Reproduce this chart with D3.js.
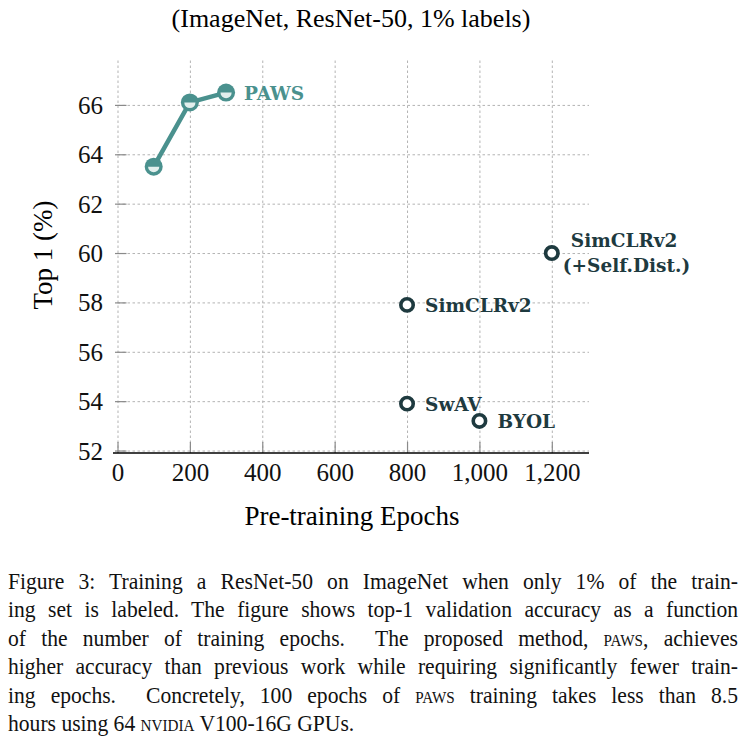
<!DOCTYPE html>
<html>
  <head>
    <meta charset="utf-8">
    <script src="https://cdn.jsdelivr.net/npm/d3@7"></script>
    <style>
      body { margin: 0; background: #fff; }
      svg { display: block; }
      .grid line { stroke: #b3b3b3; stroke-dasharray: 2.5,2.5; stroke-width: 1; }
      .grid path { display: none; }
      .axis text { font-family: "Liberation Serif", "Times New Roman", serif; font-size: 25px; fill: #111; }
      .axis line { stroke: #8a8a8a; stroke-width: 1.2; }
      .axis path { display: none; }
      .sc { font-variant: small-caps; }
    </style>
  </head>
<body>
  <script type="text/javascript">

    // PAWS 曲线
    var pawsEpochs = [100, 200, 300];
    var pawsTop1 = [63.5, 66.1, 66.5];

    // 其它方法
    var methods = ["SimCLRv2", "SwAV", "BYOL", "SimCLRv2|(+Self.Dist.)"];
    var methodEpochs = [800, 800, 1000, 1200];
    var methodTop1 = [57.9, 53.9, 53.2, 60.0];

    // 刻度
    var xTicks = [0, 200, 400, 600, 800, 1000, 1200];
    var yTicks = [52, 54, 56, 58, 60, 62, 64, 66];

    function drawChart() {
      var teal = "#4a918e", tealLight = "#e2efed", dark = "#1e3a3f";
      var serif = "'Liberation Serif', 'Times New Roman', serif";
      var labelFont = "'DejaVu Serif', serif";

      var svg = d3.select("body")
        .append("svg")
          .attr("width", 744)
          .attr("height", 749);

      var pLeft = 117.5, pRight = 589, pTop = 58, pBottom = 453;

      var x = d3.scaleLinear().domain([0, 1300]).range([pLeft, 588]);
      var y = d3.scaleLinear().domain([51.9, 67.9]).range([pBottom, pTop]);

      // 网格
      svg.append("g")
        .attr("class", "grid")
        .attr("transform", "translate(0," + pBottom + ")")
        .call(d3.axisBottom(x).tickValues(xTicks).tickSize(-(pBottom - pTop)).tickFormat(""));
      svg.append("g")
        .attr("class", "grid")
        .attr("transform", "translate(" + pLeft + ",0)")
        .call(d3.axisLeft(y).tickValues(yTicks).tickSize(-(pRight - pLeft)).tickFormat(""));

      // 坐标轴
      svg.append("g")
        .attr("class", "axis")
        .attr("transform", "translate(0," + pBottom + ")")
        .call(d3.axisBottom(x).tickValues(xTicks).tickSize(-11).tickFormat(d3.format(",")))
        .selectAll("text").attr("y", 28).attr("dy", 0);
      var ya = svg.append("g")
        .attr("class", "axis")
        .attr("transform", "translate(" + pLeft + ",0)")
        .call(d3.axisLeft(y).tickValues(yTicks).tickSize(-9).tickPadding(14.5));
      ya.selectAll(".tick line").attr("x1", -2.5);
      ya.selectAll("text").attr("dy", "0.34em");

      svg.append("line")
        .attr("x1", 113).attr("x2", pRight)
        .attr("y1", pBottom).attr("y2", pBottom)
        .style("stroke", "#000").style("stroke-width", 1.3);

      // 标题和轴标签
      svg.append("text")
        .attr("x", 351).attr("y", 27)
        .attr("text-anchor", "middle")
        .style("font-family", serif).style("font-size", "26px")
        .text("(ImageNet, ResNet-50, 1% labels)");
      svg.append("text")
        .attr("x", 352).attr("y", 525)
        .attr("text-anchor", "middle")
        .style("font-family", serif).style("font-size", "27px")
        .text("Pre-training Epochs");
      svg.append("text")
        .attr("transform", "translate(52,255) rotate(-90)")
        .attr("text-anchor", "middle")
        .style("font-family", serif).style("font-size", "27px")
        .text("Top 1 (%)");

      // PAWS 折线
      var line = d3.line()
        .x(function (d, i) { return x(pawsEpochs[i]); })
        .y(function (d) { return y(d); });
      svg.append("path")
        .datum(pawsTop1)
        .attr("d", line)
        .style("fill", "none").style("stroke", teal).style("stroke-width", 4.5);

      var pg = svg.selectAll(".paws")
        .data(pawsTop1)
        .enter()
        .append("g")
          .attr("class", "paws")
          .attr("transform", function (d, i) { return "translate(" + x(pawsEpochs[i]) + "," + y(d) + ")"; });
      pg.append("circle").attr("r", 9).style("fill", teal);
      pg.append("path")
        .attr("d", d3.arc().innerRadius(0).outerRadius(5.6).startAngle(Math.PI / 2).endAngle(Math.PI * 1.5))
        .style("fill", tealLight);

      svg.append("text")
        .attr("x", x(pawsEpochs[2]) + 18).attr("y", y(pawsTop1[2]) + 7)
        .style("font-family", labelFont).style("font-size", "18.5px").style("font-weight", "bold")
        .style("fill", teal)
        .text("PAWS");

      // 其它方法的点
      svg.selectAll(".other")
        .data(methodTop1)
        .enter()
        .append("circle")
          .attr("class", "other")
          .attr("cx", function (d, i) { return x(methodEpochs[i]); })
          .attr("cy", function (d) { return y(d); })
          .attr("r", 6.2)
          .style("fill", "white").style("stroke", dark).style("stroke-width", 3.6);

      methods.forEach(function (m, i) {
        var parts = m.split("|");
        var t = svg.append("text")
          .attr("x", x(methodEpochs[i]) + 18)
          .attr("y", y(methodTop1[i]) + 7)
          .style("font-family", labelFont).style("font-size", "18.5px").style("font-weight", "bold")
          .style("fill", dark);
        if (parts.length == 1) {
          t.text(m);
        } else {
          t.attr("y", y(methodTop1[i]) - 6);
          t.append("tspan").attr("x", x(methodEpochs[i]) + 19).text(parts[0]);
          t.append("tspan").attr("x", x(methodEpochs[i]) + 11).attr("dy", 25).text(parts[1]);
        }
      });

      // 图注（两端对齐，字形略窄）
      var capScale = 0.9;
      var capLines = [
        [["Figure 3: Training a ResNet-50 on ImageNet when only 1% of the train-", 0]],
        [["ing set is labeled. The figure shows top-1 validation accuracy as a function", 0]],
        [["of the number of training epochs.  The proposed method, ", 0], ["paws", 1], [", achieves", 0]],
        [["higher accuracy than previous work while requiring significantly fewer train-", 0]],
        [["ing epochs.  Concretely, 100 epochs of ", 0], ["paws", 1], [" training takes less than 8.5", 0]],
        [["hours using 64 ", 0], ["nvidia", 1], [" V100-16G GPUs.", 0]]
      ];
      var capG = svg.append("g").attr("transform", "translate(8,0) scale(" + capScale + ",1)");
      capLines.forEach(function (segs, i) {
        var t = capG.append("text")
          .attr("x", 0)
          .attr("y", 589 + i * 28.4)
          .attr("xml:space", "preserve")
          .style("font-family", serif)
          .style("font-size", "24px")
          .style("fill", "#111");
        segs.forEach(function (s) {
          t.append("tspan").attr("class", s[1] ? "sc" : null).text(s[0]);
        });
        if (i < capLines.length - 1) {
          var w = t.node().getComputedTextLength();
          var spaces = segs.map(function (s) { return s[0]; }).join("").split(" ").length - 1;
          t.style("word-spacing", ((730 / capScale - w) / spaces) + "px");
        }
      });
    }

    drawChart();
  </script>
</body>
</html>
